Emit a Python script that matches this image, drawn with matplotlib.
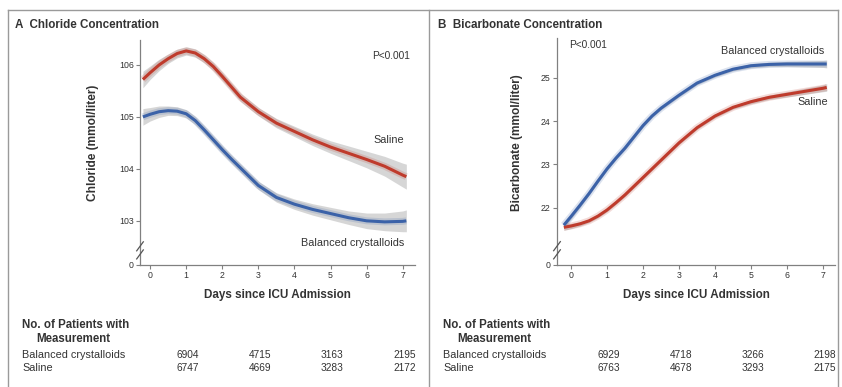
import matplotlib
matplotlib.use("Agg")
from matplotlib import pyplot as plt
from matplotlib import transforms
import numpy as np

plt.rcParams['font.family'] = ['Liberation Sans', 'DejaVu Sans']

# values
days = [-0.2, 0, 0.25, 0.5, 0.75, 1, 1.25, 1.5, 1.75, 2, 2.25, 2.5, 3, 3.5, 4, 4.5,
        5, 5.5, 6, 6.5, 7, 7.1]

cl_saline = [105.72, 105.85, 106.00, 106.12, 106.22, 106.27, 106.23, 106.12, 105.97,
             105.78, 105.58, 105.38, 105.10, 104.88, 104.72, 104.56, 104.42, 104.30,
             104.18, 104.05, 103.88, 103.85]
cl_balanced = [105.00, 105.05, 105.10, 105.12, 105.11, 105.06, 104.93, 104.75, 104.56,
               104.37, 104.19, 104.02, 103.68, 103.45, 103.32, 103.22, 103.14, 103.06,
               103.00, 102.98, 102.99, 103.00]
cl_saline_ci = [0.16, 0.13, 0.11, 0.09, 0.085, 0.08, 0.08, 0.08, 0.08, 0.08, 0.08, 0.08,
                0.08, 0.09, 0.10, 0.11, 0.12, 0.14, 0.16, 0.19, 0.23, 0.24]
cl_balanced_ci = [0.16, 0.13, 0.11, 0.09, 0.085, 0.08, 0.08, 0.08, 0.08, 0.08, 0.08, 0.08,
                  0.08, 0.09, 0.10, 0.11, 0.12, 0.13, 0.15, 0.17, 0.20, 0.21]

bic_balanced = [21.60, 21.80, 22.06, 22.33, 22.62, 22.90, 23.15, 23.38, 23.64, 23.90,
                24.12, 24.30, 24.60, 24.88, 25.06, 25.20, 25.28, 25.31, 25.32, 25.32,
                25.32, 25.32]
bic_saline = [21.55, 21.58, 21.63, 21.70, 21.81, 21.95, 22.12, 22.30, 22.50, 22.70,
              22.90, 23.10, 23.50, 23.85, 24.12, 24.32, 24.45, 24.55, 24.62, 24.69,
              24.76, 24.78]
bic_ci = [0.07, 0.06, 0.05, 0.04, 0.04, 0.04, 0.04, 0.04, 0.04, 0.04, 0.04, 0.04,
          0.04, 0.04, 0.04, 0.04, 0.05, 0.05, 0.06, 0.07, 0.08, 0.09]

table_days = [1, 3, 5, 7]
cl_n_balanced = ["6904", "4715", "3163", "2195"]
cl_n_saline = ["6747", "4669", "3283", "2172"]
bic_n_balanced = ["6929", "4718", "3266", "2198"]
bic_n_saline = ["6763", "4678", "3293", "2175"]

RED = '#bf3b2c'
BLUE = '#3b62a8'
AXC = '#808080'
TXT = '#333333'

fig = plt.figure(figsize=(8.42, 3.87), dpi=100)


def px(x, y):
    return x / 842, 1 - y / 387


# frame around the figure
frame = dict(color='#9a9a9a', lw=1.0, transform=fig.transFigure)
fig.add_artist(plt.Line2D([px(8, 0)[0], px(838, 0)[0]], [px(0, 10)[1]] * 2, **frame))
fig.add_artist(plt.Line2D([px(8, 0)[0]] * 2, [px(0, 10)[1], 0], **frame))
fig.add_artist(plt.Line2D([px(838, 0)[0]] * 2, [px(0, 10)[1], 0], **frame))
fig.add_artist(plt.Line2D([px(429, 0)[0]] * 2, [px(0, 10)[1], 0], **frame))


def panel(rect, xlim, ylim, ticks, series, bands, title, title_x, ylabel, ylabel_x,
          table_bal, table_sal):
    ax = fig.add_axes(rect)
    ax.set_xlim(*xlim)
    ax.set_ylim(*ylim)
    for (vals, ci, col) in bands:
        v = np.array(vals)
        c = np.array(ci)
        ax.fill_between(days, v - c, v + c, color='#c9c9c9', alpha=0.75, lw=0, zorder=1)
    for (vals, col) in series:
        ax.plot(days, vals, color=col, lw=5, alpha=0.18, solid_capstyle='butt',
                solid_joinstyle='round', zorder=2)
        ax.plot(days, vals, color=col, lw=2.2, solid_capstyle='butt',
                solid_joinstyle='round', zorder=3)
    for s in ['top', 'right']:
        ax.spines[s].set_visible(False)
    for s in ['left', 'bottom']:
        ax.spines[s].set_color(AXC)
        ax.spines[s].set_linewidth(0.9)
    ax.set_xticks(range(8))
    ax.set_yticks([ylim[0]] + ticks)
    ax.set_yticklabels(['0'] + [str(t) for t in ticks])
    ax.tick_params(colors=AXC, labelcolor=TXT, labelsize=6.3, length=3, width=0.8, pad=1.5)
    ax.set_xlabel('Days since ICU Admission', fontsize=8.4, fontweight='bold', color=TXT,
                  labelpad=6)
    fig.text(ylabel_x, px(0, 143)[1], ylabel,
             rotation=90, ha='center', va='center', fontsize=8.6, fontweight='bold', color=TXT)
    # axis break marks
    yb = ylim[0] + (ylim[1] - ylim[0]) * 0.065
    dy = (ylim[1] - ylim[0]) * 0.02
    dx = (xlim[1] - xlim[0]) * 0.012
    for off in (-dy * 0.9, dy * 0.9):
        ax.plot([xlim[0] - dx, xlim[0] + dx], [yb + off - dy, yb + off + dy],
                color='#555555', lw=0.9, clip_on=False, zorder=5)
    fig.text(title_x, px(0, 25)[1], title, fontsize=8.4, fontweight='bold', color=TXT,
             va='center')
    # patient numbers table
    tr = transforms.blended_transform_factory(ax.transData, fig.transFigure)
    for d, nb, ns in zip(table_days, table_bal, table_sal):
        fig.text(d + 0.05, px(0, 355)[1], nb, transform=tr, ha='center', va='center',
                 fontsize=7.3, color=TXT)
        fig.text(d + 0.05, px(0, 368)[1], ns, transform=tr, ha='center', va='center',
                 fontsize=7.3, color=TXT)
    return ax


def table_heads(x0):
    fig.text(px(x0, 0)[0], px(0, 325)[1], 'No. of Patients with', fontsize=8.3,
             fontweight='bold', color=TXT, va='center')
    fig.text(px(x0 + 14, 0)[0], px(0, 339)[1], 'Measurement', fontsize=8.3,
             fontweight='bold', color=TXT, va='center')
    fig.text(px(x0, 0)[0], px(0, 355)[1], 'Balanced crystalloids', fontsize=7.8,
             color=TXT, va='center')
    fig.text(px(x0, 0)[0], px(0, 368)[1], 'Saline', fontsize=7.8, color=TXT, va='center')


axA = panel([140 / 842, 1 - 265 / 387, 275 / 842, 225 / 387], (-0.28, 7.34), (102.15, 106.48),
            [103, 104, 105, 106],
            [(cl_saline, RED), (cl_balanced, BLUE)],
            [(cl_saline, cl_saline_ci, RED), (cl_balanced, cl_balanced_ci, BLUE)],
            'A  Chloride Concentration', px(15, 0)[0],
            'Chloride (mmol/liter)', px(93, 0)[0], cl_n_balanced, cl_n_saline)
axA.text(7.2, 106.18, 'P<0.001', fontsize=7.3, color=TXT, ha='right', va='center')
axA.text(6.6, 104.55, 'Saline', fontsize=7.8, color=TXT, ha='center', va='center')
axA.text(5.6, 102.57, 'Balanced crystalloids', fontsize=7.8, color=TXT, ha='center',
         va='center')

axB = panel([557 / 842, 1 - 265 / 387, 278 / 842, 227 / 387], (-0.39, 7.33), (20.68, 25.92),
            [22, 23, 24, 25],
            [(bic_saline, RED), (bic_balanced, BLUE)],
            [(bic_saline, bic_ci, RED), (bic_balanced, bic_ci, BLUE)],
            'B  Bicarbonate Concentration', px(438, 0)[0],
            'Bicarbonate (mmol/liter)', px(517, 0)[0], bic_n_balanced, bic_n_saline)
axB.text(-0.05, 25.76, 'P<0.001', fontsize=7.3, color=TXT, ha='left', va='center')
axB.text(5.6, 25.62, 'Balanced crystalloids', fontsize=7.8, color=TXT, ha='center',
         va='center')
axB.text(6.7, 24.45, 'Saline', fontsize=7.8, color=TXT, ha='center', va='center')

table_heads(22)
table_heads(443)

fig.savefig('out.png', dpi=100)
